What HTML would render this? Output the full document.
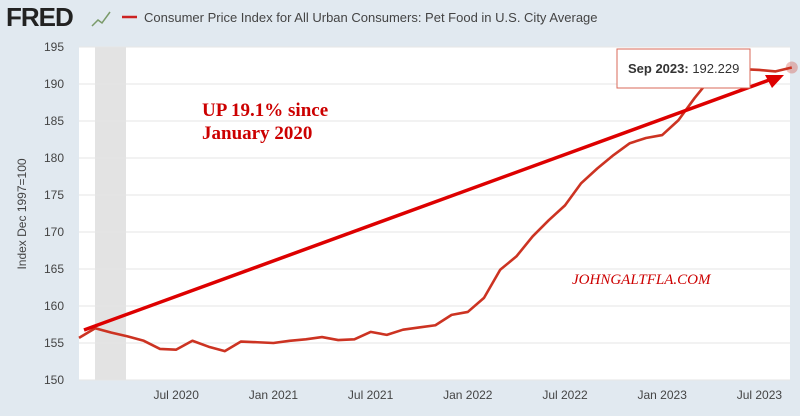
<!DOCTYPE html>
<html><head><meta charset="utf-8"><style>
body{margin:0;width:800px;height:411px;overflow:hidden;background:#e1e9f0;font-family:"Liberation Sans",sans-serif}
</style></head><body>
<svg width="800" height="411">
<rect x="0" y="0" width="800" height="411" fill="#e1e9f0"/>
<text x="6" y="26" font-size="26" font-weight="bold" fill="#222" letter-spacing="-1">FRED</text>
<polyline points="92,26 98,20 102,23 110,12" fill="none" stroke="#7a9a6a" stroke-width="1.5"/>
<line x1="122" y1="17" x2="137" y2="17" stroke="#cc2222" stroke-width="2.5"/>
<text x="144" y="22" font-size="13" fill="#444">Consumer Price Index for All Urban Consumers: Pet Food in U.S. City Average</text>
<rect x="79" y="47" width="711" height="333" fill="#fff"/>
<rect x="95" y="47" width="31" height="333" fill="#e3e3e3"/>
<g id="grid"></g><g id="ylab"></g><g id="xlab"></g>
<text transform="translate(26,214) rotate(-90)" font-size="12" fill="#444" text-anchor="middle">Index Dec 1997=100</text>
<polyline id="series" fill="none" stroke="#cc3322" stroke-width="2.6" stroke-linejoin="round"/>
<line x1="84" y1="330" x2="772" y2="79" stroke="#dd0000" stroke-width="3.5"/>
<polygon points="784,75 765,75 772,88" fill="#dd0000"/>
<circle id="dot" r="6" fill="#cc3322" fill-opacity="0.3"/>
<rect x="617" y="49" width="133" height="39" fill="#fff" stroke="#d86a5a" stroke-width="1"/>
<text x="628" y="73" font-size="13" fill="#333"><tspan font-weight="bold">Sep 2023:</tspan> 192.229</text>
<text x="202" y="116" font-family="Liberation Serif,serif" font-size="19" font-weight="bold" fill="#cc0000">UP 19.1% since</text>
<text x="202" y="139" font-family="Liberation Serif,serif" font-size="19" font-weight="bold" fill="#cc0000">January 2020</text>
<text x="572" y="284" font-family="Liberation Serif,serif" font-size="15" font-style="italic" fill="#cc0000">JOHNGALTFLA.COM</text>
</svg>
<script>
const values=[155.7,157.0,156.4,155.9,155.3,154.2,154.1,155.3,154.5,153.9,155.2,155.1,
155.0,155.3,155.5,155.8,155.4,155.5,156.5,156.1,156.8,157.1,157.4,158.8,
159.2,161.1,164.9,166.7,169.4,171.6,173.6,176.6,178.6,180.4,182.0,182.7,
183.1,185.1,188.1,190.8,191.9,192.0,191.9,191.7,192.229];
const yTicks=[150,155,160,165,170,175,180,185,190,195];
const xTickLabels=["Jul 2020","Jan 2021","Jul 2021","Jan 2022","Jul 2022","Jan 2023","Jul 2023"];
const xTickIndex=[6,12,18,24,30,36,42];
const NS="http://www.w3.org/2000/svg";
const xS=i=>79+i*16.2, yS=v=>380-(v-150)*7.4;
const grid=document.getElementById('grid'),yl=document.getElementById('ylab'),xl=document.getElementById('xlab');
yTicks.forEach(t=>{
 const l=document.createElementNS(NS,'line');
 l.setAttribute('x1',79);l.setAttribute('x2',790);l.setAttribute('y1',yS(t));l.setAttribute('y2',yS(t));
 l.setAttribute('stroke','#e6e6e6');
 
 
 grid.appendChild(l);
 const tx=document.createElementNS(NS,'text');
 tx.setAttribute('x',64);tx.setAttribute('y',yS(t)+4);tx.setAttribute('text-anchor','end');
 tx.setAttribute('font-size','12');tx.setAttribute('fill','#444');tx.textContent=t;
 
 
 yl.appendChild(tx);
});
xTickLabels.forEach((s,k)=>{
 const tx=document.createElementNS(NS,'text');
 tx.setAttribute('x',xS(xTickIndex[k]));tx.setAttribute('y',399);tx.setAttribute('text-anchor','middle');
 tx.setAttribute('font-size','12');tx.setAttribute('fill','#444');tx.textContent=s;
 
 
 xl.appendChild(tx);
});
document.getElementById('series').setAttribute('points',values.map((v,i)=>xS(i)+','+yS(v)).join(' '));
const d=document.getElementById('dot');const n=values.length-1;
d.setAttribute('cx',xS(n));d.setAttribute('cy',yS(values[n]));
</script>
</body></html>
